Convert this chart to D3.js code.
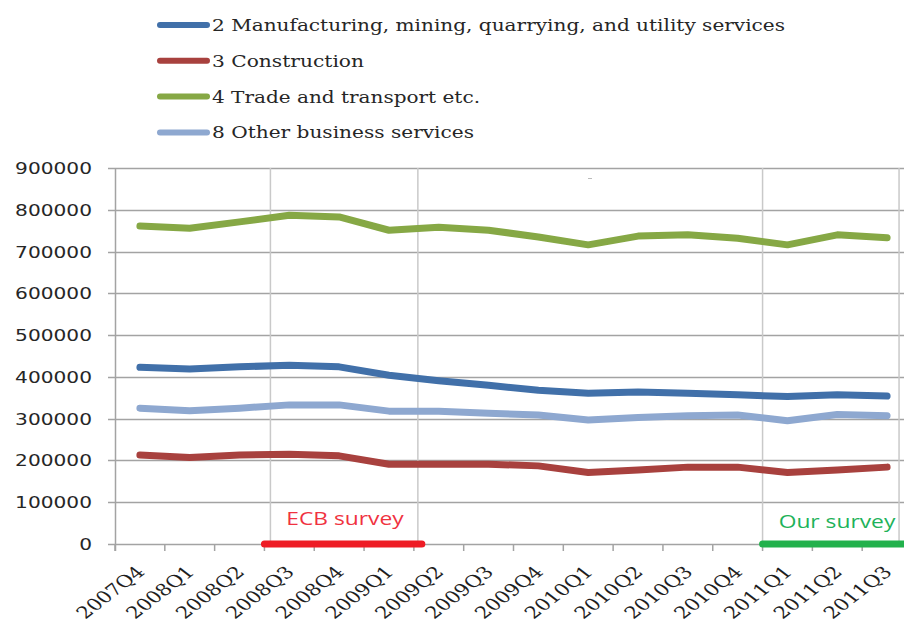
<!DOCTYPE html>
<html>
<head>
<meta charset="utf-8">
<script src="https://cdnjs.cloudflare.com/ajax/libs/d3/7.8.5/d3.min.js"></script>
<style>
  html, body { margin: 0; padding: 0; background: #fff; }
  svg { display: block; }
</style>
</head>
<body>
<div class="chart"></div>
<script>
'use strict';

// quarters on the x axis
var quarters = ['2007Q4', '2008Q1', '2008Q2', '2008Q3', '2008Q4', '2009Q1', '2009Q2', '2009Q3',
                '2009Q4', '2010Q1', '2010Q2', '2010Q3', '2010Q4', '2011Q1', '2011Q2', '2011Q3'];

var yTicks = [0, 100000, 200000, 300000, 400000, 500000, 600000, 700000, 800000, 900000];

// series values
var manufacturing = [423000, 419000, 424000, 428000, 424000, 404000, 391000, 380000,
                     368000, 361000, 364000, 361000, 357000, 353000, 357000, 354000];
var construction  = [213000, 207000, 213000, 215000, 211000, 191000, 191000, 191000,
                     187000, 171000, 177000, 184000, 184000, 171000, 177000, 184000];
var trade         = [761000, 756000, 771000, 787000, 783000, 751000, 758000, 751000,
                     735000, 716000, 737000, 740000, 732000, 716000, 740000, 733000];
var otherBusiness = [325000, 319000, 325000, 333000, 333000, 318000, 318000, 313000,
                     309000, 297000, 303000, 307000, 309000, 295000, 310000, 307000];

var seriesNames = ['2 Manufacturing, mining, quarrying, and utility services',
                   '3 Construction',
                   '4 Trade and transport etc.',
                   '8 Other business services'];
var seriesColors = ['#4170a9', '#a8413e', '#86a845', '#8ea8d0'];
var seriesValues = [manufacturing, construction, trade, otherBusiness];

// survey periods (quarter + fraction of the quarter)
var ecbSurvey = {label: 'ECB survey', from: ['2008Q3', 0], to: ['2009Q2', 0.16]};
var ourSurvey = {label: 'Our survey', from: ['2011Q1', 0], to: ['2011Q3', 1]};
var markerLines = [['2008Q3', 0.12], ['2009Q2', 0.08], ['2011Q1', 0], ['2011Q3', 0.74]];

var width = 904, height = 622;
var margin = {top: 168, left: 115, bottom: 544, right: 912};
var sx = 1.3; // the original picture is stretched sideways

var svg = d3.select('.chart').append('svg')
  .attr('width', width)
  .attr('height', height);

svg.append('rect').attr('width', width).attr('height', height).attr('fill', '#fff');

var x = d3.scaleBand().domain(quarters).range([margin.left, margin.right]);
var y = d3.scaleLinear().domain([0, 900000]).range([margin.bottom, margin.top]);
var cx = function(q) { return x(q) + x.bandwidth() / 2; };
var at = function(p) { return x(p[0]) + p[1] * x.bandwidth(); };

// horizontal gridlines
svg.append('g').selectAll('line')
  .data(yTicks)
  .enter().append('line')
    .attr('x1', margin.left - 7)
    .attr('x2', width)
    .attr('y1', function(d) { return Math.round(y(d)) + 0.5; })
    .attr('y2', function(d) { return Math.round(y(d)) + 0.5; })
    .style('stroke', '#a3a3a3')
    .style('stroke-width', 1.5);

// vertical marker lines
svg.append('g').selectAll('line')
  .data(markerLines)
  .enter().append('line')
    .attr('x1', at).attr('x2', at)
    .attr('y1', margin.top)
    .attr('y2', margin.bottom)
    .style('stroke', '#c9c9c9')
    .style('stroke-width', 1.5);

// left axis line
svg.append('line')
  .attr('x1', margin.left + 0.5).attr('x2', margin.left + 0.5)
  .attr('y1', margin.top).attr('y2', margin.bottom + 7)
  .style('stroke', '#a3a3a3')
  .style('stroke-width', 1.5);

// x tick marks at quarter boundaries
svg.append('g').selectAll('line')
  .data(quarters)
  .enter().append('line')
    .attr('x1', function(d) { return x(d); })
    .attr('x2', function(d) { return x(d); })
    .attr('y1', margin.bottom)
    .attr('y2', margin.bottom + 7)
    .style('stroke', '#a3a3a3')
    .style('stroke-width', 1.5);

// y labels
svg.append('g').selectAll('text')
  .data(yTicks)
  .enter().append('text')
    .attr('transform', function(d) { return 'translate(92,' + (y(d) + 6) + ') scale(' + sx + ',1)'; })
    .attr('text-anchor', 'end')
    .style('font-family', '"DejaVu Sans", Verdana, sans-serif')
    .style('font-size', '15.5px')
    .style('fill', '#262626')
    .text(function(d) { return d; });

// x labels
svg.append('g').selectAll('text')
  .data(quarters)
  .enter().append('text')
    .attr('transform', function(d) {
      return 'translate(' + (cx(d) + 6) + ',573) scale(' + sx + ',1) rotate(-45)';
    })
    .attr('text-anchor', 'end')
    .style('font-family', '"DejaVu Serif", "Liberation Serif", serif')
    .style('font-size', '16.5px')
    .style('fill', '#1e1e1e')
    .text(function(d) { return d; });

// series lines
var line = d3.line()
  .x(function(d, i) { return cx(quarters[i]); })
  .y(function(d) { return y(d); });

svg.append('g').selectAll('path')
  .data(seriesValues)
  .enter().append('path')
    .attr('d', line)
    .style('fill', 'none')
    .style('stroke', function(d, i) { return seriesColors[i]; })
    .style('stroke-width', 7)
    .style('stroke-linecap', 'round')
    .style('stroke-linejoin', 'round');

// survey bars
var surveys = [
  {s: ecbSurvey, color: '#ee1c25', text: '#f0323f', tx: 345, ty: 525},
  {s: ourSurvey, color: '#22b14c', text: '#1eb25a', tx: 837, ty: 528}
];
surveys.forEach(function(o) {
  svg.append('line')
    .attr('x1', at(o.s.from)).attr('x2', at(o.s.to))
    .attr('y1', margin.bottom).attr('y2', margin.bottom)
    .style('stroke', o.color)
    .style('stroke-width', 7)
    .style('stroke-linecap', 'round');
  svg.append('text')
    .attr('transform', 'translate(' + o.tx + ',' + o.ty + ') scale(1.2,1)')
    .attr('text-anchor', 'middle')
    .style('font-family', '"Open Sans", "Noto Sans", sans-serif')
    .style('font-size', '19px')
    .style('fill', o.text)
    .text(o.s.label);
});

// stray mark near the top
svg.append('line')
  .attr('x1', 588).attr('x2', 592)
  .attr('y1', 178.5).attr('y2', 178.5)
  .style('stroke', '#bbb');

// legend
var legendWidths = [573, 152, 268, 262];
var legend = svg.append('g').selectAll('g')
  .data(seriesNames)
  .enter().append('g')
    .attr('transform', function(d, i) { return 'translate(157,' + (25 + i * 35.8) + ')'; });

legend.append('line')
  .attr('x1', 3).attr('x2', 50)
  .style('stroke', function(d, i) { return seriesColors[i]; })
  .style('stroke-width', 6)
  .style('stroke-linecap', 'round');

legend.append('text')
  .attr('x', 55)
  .attr('y', 6)
  .attr('textLength', function(d, i) { return legendWidths[i]; })
  .attr('lengthAdjust', 'spacingAndGlyphs')
  .style('font-family', '"DejaVu Serif", "Liberation Serif", serif')
  .style('font-size', '16px')
  .style('fill', '#262626')
  .text(function(d) { return d; });
</script>
</body>
</html>
